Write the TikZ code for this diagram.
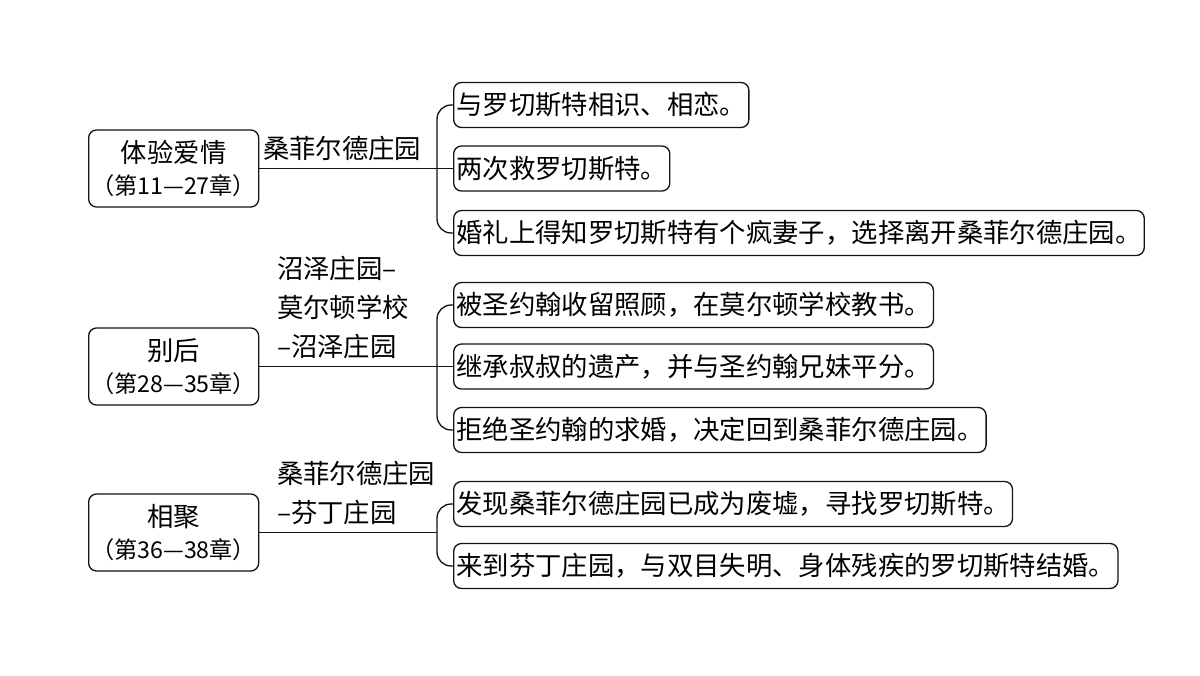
\documentclass[tikz,border=0pt]{standalone}
\usepackage{fontspec}
\setmainfont{Noto Sans CJK SC}
\usepackage{tikz}
\usetikzlibrary{positioning, calc}
\definecolor{inkline}{RGB}{20, 20, 20}
\newcommand{\stagename}[1]{{\fontsize{15}{18}\selectfont #1}}
\tikzset{
  font=\fontsize{15}{18}\selectfont,
  stagebox/.style={
    rectangle, rounded corners=4.5pt, draw=inkline, line width=0.75pt,
    minimum width=3.4cm, minimum height=1.54cm, align=center,
    inner xsep=1pt, anchor=west, font=\fontsize{13.2}{18}\selectfont
  },
  eventbox/.style={
    rectangle, rounded corners=4.5pt, draw=inkline, line width=0.75pt,
    minimum height=0.9cm, inner xsep=1.5pt, inner ysep=0pt, anchor=west
  },
  routelabel/.style={
    align=left, inner sep=1pt, anchor=south west,
    font=\fontsize{15}{22}\selectfont
  },
  linkline/.style={draw=inkline, line width=0.75pt},
  forkline/.style={draw=inkline, line width=0.75pt, rounded corners=8pt}
}

\begin{document}
\begin{tikzpicture}

  \useasboundingbox (0,0) rectangle (24,13.5);

  % Stages
  \node[stagebox] (stage1) at (1.76,10.13) {\stagename{体验爱情}\\（第11—27章）};
  \node[stagebox] (stage2) at (1.76,6.17) {\stagename{别后}\\（第28—35章）};
  \node[stagebox] (stage3) at (1.76,2.85) {\stagename{相聚}\\（第36—38章）};

  % Forks
  \coordinate (fork1) at (8.74,10.13);
  \coordinate (fork2) at (8.74,6.17);
  \coordinate (fork3) at (8.74,2.85);

  % Events
  \node[eventbox] (ev11) at (9.06,11.40) {与罗切斯特相识、相恋。};
  \node[eventbox] (ev12) at (9.06,10.13) {两次救罗切斯特。};
  \node[eventbox] (ev13) at (9.06,8.84) {婚礼上得知罗切斯特有个疯妻子，选择离开桑菲尔德庄园。};

  \node[eventbox] (ev21) at (9.06,7.40) {被圣约翰收留照顾，在莫尔顿学校教书。};
  \node[eventbox] (ev22) at (9.06,6.17) {继承叔叔的遗产，并与圣约翰兄妹平分。};
  \node[eventbox] (ev23) at (9.06,4.90) {拒绝圣约翰的求婚，决定回到桑菲尔德庄园。};

  \node[eventbox] (ev31) at (9.06,3.42) {发现桑菲尔德庄园已成为废墟，寻找罗切斯特。};
  \node[eventbox] (ev32) at (9.06,2.18) {来到芬丁庄园，与双目失明、身体残疾的罗切斯特结婚。};

  % Places
  \node[routelabel] (place1) at (5.22,10.25) {桑菲尔德庄园};
  \node[routelabel] (place2) at (5.5,6.29) {沼泽庄园–\\莫尔顿学校\\–沼泽庄园};
  \node[routelabel] (place3) at (5.5,2.97) {桑菲尔德庄园\\–芬丁庄园};

  % Connectors
  \draw[linkline] (stage1.east) -- (ev12.west);
  \draw[forkline] (ev11.west) -| (fork1) |- (ev13.west);

  \draw[linkline] (stage2.east) -- (ev22.west);
  \draw[forkline] (ev21.west) -| (fork2) |- (ev23.west);

  \draw[linkline] (stage3.east) -- (fork3);
  \draw[forkline] (ev31.west) -| (fork3) |- (ev32.west);

\end{tikzpicture}
\end{document}
